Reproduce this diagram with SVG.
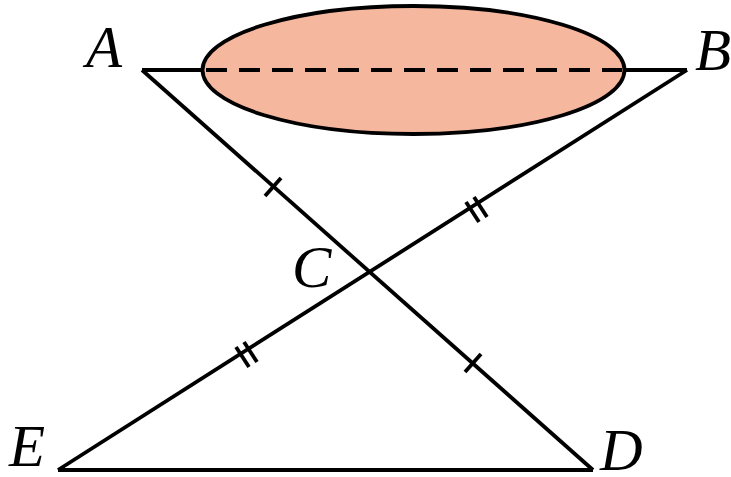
<svg xmlns="http://www.w3.org/2000/svg" width="731" height="477" viewBox="0 0 731 477">
<style>
.ln{stroke:#000;stroke-width:3.8;fill:none;stroke-linecap:butt}
.lbl{font-family:"Liberation Serif","Times New Roman",serif;font-style:italic;font-size:59px;fill:#000}
</style>
<rect width="731" height="477" fill="#fff"/>
<g id="ellipse">
<ellipse cx="413.5" cy="70" rx="211" ry="64" fill="#F6B79F" stroke="#000" stroke-width="3.8"/>
</g>
<g id="connectors">
<line class="ln" x1="142" y1="70" x2="202.5" y2="70"/>
<line class="ln" x1="624.5" y1="70" x2="687" y2="70"/>
<line class="ln" x1="206" y1="70" x2="622" y2="70" stroke-dasharray="21 12"/>
<line class="ln" x1="142" y1="70" x2="593" y2="470"/>
<line class="ln" x1="687" y1="70" x2="58" y2="470"/>
<line class="ln" x1="58" y1="470" x2="593" y2="470"/>
</g>
<g id="ticks">
<line class="ln" x1="265" y1="196" x2="281" y2="178"/>
<line class="ln" x1="465" y1="372" x2="481" y2="354"/>
<line class="ln" x1="466" y1="202" x2="479" y2="222"/>
<line class="ln" x1="474" y1="197" x2="487" y2="217"/>
<line class="ln" x1="236" y1="347" x2="249" y2="367"/>
<line class="ln" x1="244" y1="342" x2="257" y2="362"/>
</g>
<g id="A"><text class="lbl" x="86" y="67">A</text></g>
<g id="B"><text class="lbl" x="695" y="70">B</text></g>
<g id="C"><text class="lbl" x="292" y="287">C</text></g>
<g id="E"><text class="lbl" x="9" y="466">E</text></g>
<g id="D"><text class="lbl" x="600" y="470">D</text></g>
</svg>
